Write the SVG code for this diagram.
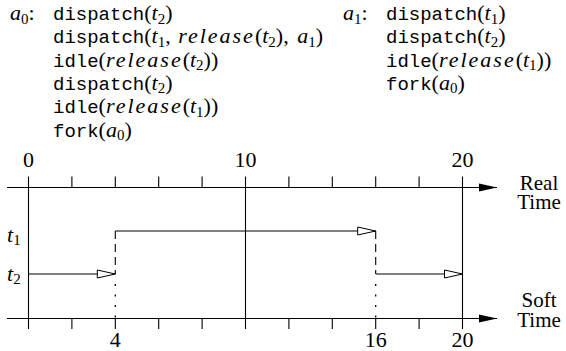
<svg xmlns="http://www.w3.org/2000/svg" width="566" height="351" viewBox="0 0 566 351">
  <style>
    .rm{font-family:'Liberation Serif','DejaVu Serif',serif;font-size:22px;fill:#000}
    .tt{font-family:'Liberation Mono','DejaVu Sans Mono',monospace;font-size:19px}
    .it{font-style:italic}
    .wide{letter-spacing:2px}
    .sub{font-size:15px}
    .lbl{font-size:21px}
    .ln{stroke:#000;stroke-width:1.1;fill:none}
    .dash{stroke:#000;stroke-width:1.1;fill:none;stroke-dasharray:8 5}
    .dot{stroke:#000;stroke-width:1.3;fill:none;stroke-dasharray:2 8.5}
  </style>
  <defs>
    <marker id="solid" markerUnits="userSpaceOnUse" markerWidth="20" markerHeight="10" refX="18" refY="4" orient="auto" overflow="visible">
      <path d="M0,0 L18,4 L0,8 Z" fill="#000"/>
    </marker>
    <marker id="open" markerUnits="userSpaceOnUse" markerWidth="20" markerHeight="10" refX="18" refY="4" orient="auto" overflow="visible">
      <path d="M0,0 L18,4 L0,8 Z" fill="#fff" stroke="#000" stroke-width="1"/>
    </marker>
  </defs>
  <rect width="566" height="351" fill="#fff"/>

  <!-- schedule of agent a0 -->
  <g id="schedule-a0" class="rm">
    <text x="10" y="20"><tspan class="it">a</tspan><tspan class="sub" dy="3.5">0</tspan><tspan dy="-3.5">:</tspan></text>
    <text x="53" y="20"><tspan class="tt">dispatch</tspan>(<tspan class="it">t</tspan><tspan class="sub" dy="3.5">2</tspan><tspan dy="-3.5">)</tspan></text>
    <text x="53" y="43.3"><tspan class="tt">dispatch</tspan>(<tspan class="it">t</tspan><tspan class="sub" dy="3.5">1</tspan><tspan dy="-3.5">, </tspan><tspan class="it wide" dx="2">release</tspan>(<tspan class="it">t</tspan><tspan class="sub" dy="3.5">2</tspan><tspan dy="-3.5">), </tspan><tspan class="it" dx="3">a</tspan><tspan class="sub" dy="3.5">1</tspan><tspan dy="-3.5">)</tspan></text>
    <text x="53" y="66.6"><tspan class="tt">idle</tspan>(<tspan class="it wide">release</tspan>(<tspan class="it">t</tspan><tspan class="sub" dy="3.5">2</tspan><tspan dy="-3.5">))</tspan></text>
    <text x="53" y="89.9"><tspan class="tt">dispatch</tspan>(<tspan class="it">t</tspan><tspan class="sub" dy="3.5">2</tspan><tspan dy="-3.5">)</tspan></text>
    <text x="53" y="113.2"><tspan class="tt">idle</tspan>(<tspan class="it wide">release</tspan>(<tspan class="it">t</tspan><tspan class="sub" dy="3.5">1</tspan><tspan dy="-3.5">))</tspan></text>
    <text x="53" y="136.5"><tspan class="tt">fork</tspan>(<tspan class="it">a</tspan><tspan class="sub" dy="3.5">0</tspan><tspan dy="-3.5">)</tspan></text>
  </g>

  <!-- schedule of agent a1 -->
  <g id="schedule-a1" class="rm">
    <text x="343" y="20"><tspan class="it">a</tspan><tspan class="sub" dy="3.5">1</tspan><tspan dy="-3.5">:</tspan></text>
    <text x="386" y="20"><tspan class="tt">dispatch</tspan>(<tspan class="it">t</tspan><tspan class="sub" dy="3.5">1</tspan><tspan dy="-3.5">)</tspan></text>
    <text x="386" y="43.3"><tspan class="tt">dispatch</tspan>(<tspan class="it">t</tspan><tspan class="sub" dy="3.5">2</tspan><tspan dy="-3.5">)</tspan></text>
    <text x="386" y="66.6"><tspan class="tt">idle</tspan>(<tspan class="it wide">release</tspan>(<tspan class="it">t</tspan><tspan class="sub" dy="3.5">1</tspan><tspan dy="-3.5">))</tspan></text>
    <text x="386" y="89.9"><tspan class="tt">fork</tspan>(<tspan class="it">a</tspan><tspan class="sub" dy="3.5">0</tspan><tspan dy="-3.5">)</tspan></text>
  </g>

  <!-- real time axis -->
  <g id="real-time-axis">
    <line class="ln" x1="7" y1="187.5" x2="497" y2="187.5" marker-end="url(#solid)"/>
    <path class="ln" d="M71.9,176.5V187.5M115.3,176.5V187.5M158.7,176.5V187.5M202.1,176.5V187.5M288.9,176.5V187.5M332.3,176.5V187.5M375.7,176.5V187.5M419.1,176.5V187.5"/>
    <g class="rm" text-anchor="middle">
      <text x="28.5" y="167">0</text>
      <text x="245.5" y="167">10</text>
      <text x="462.5" y="167">20</text>
      <text class="lbl" x="539" y="189.5">Real</text>
      <text class="lbl" x="539" y="208.5">Time</text>
    </g>
  </g>

  <!-- soft time axis -->
  <g id="soft-time-axis">
    <line class="ln" x1="7" y1="318.5" x2="497" y2="318.5" marker-end="url(#solid)"/>
    <path class="ln" d="M71.9,318.5V329M115.3,318.5V329M158.7,318.5V329M202.1,318.5V329M288.9,318.5V329M332.3,318.5V329M375.7,318.5V329M419.1,318.5V329"/>
    <g class="rm" text-anchor="middle">
      <text x="115.3" y="346.5">4</text>
      <text x="375.7" y="346.5">16</text>
      <text x="462.5" y="346.5">20</text>
      <text class="lbl" x="539" y="307">Soft</text>
      <text class="lbl" x="539" y="326.5">Time</text>
    </g>
  </g>

  <!-- grid lines at 0, 10, 20 -->
  <g id="grid">
    <path class="ln" d="M28.5,176.5V329M245.5,176.5V329M462.5,176.5V329"/>
  </g>

  <!-- thread labels -->
  <g id="thread-t1" class="rm">
    <text x="7" y="241.5"><tspan class="it">t</tspan><tspan class="sub" dy="3.5">1</tspan></text>
  </g>
  <g id="thread-t2" class="rm">
    <text x="7" y="280.5"><tspan class="it">t</tspan><tspan class="sub" dy="3.5">2</tspan></text>
  </g>

  <!-- execution segments and switches -->
  <g id="connectors">
    <line class="ln" x1="28.5" y1="274" x2="115.3" y2="274" marker-end="url(#open)"/>
    <line class="ln" x1="115.3" y1="231" x2="375.7" y2="231" marker-end="url(#open)"/>
    <line class="ln" x1="375.7" y1="274" x2="462.5" y2="274" marker-end="url(#open)"/>
    <path class="dash" d="M115.3,231V274M375.7,231V274"/>
    <path class="dot" d="M115.3,284V318M375.7,284V318"/>
  </g>
</svg>
